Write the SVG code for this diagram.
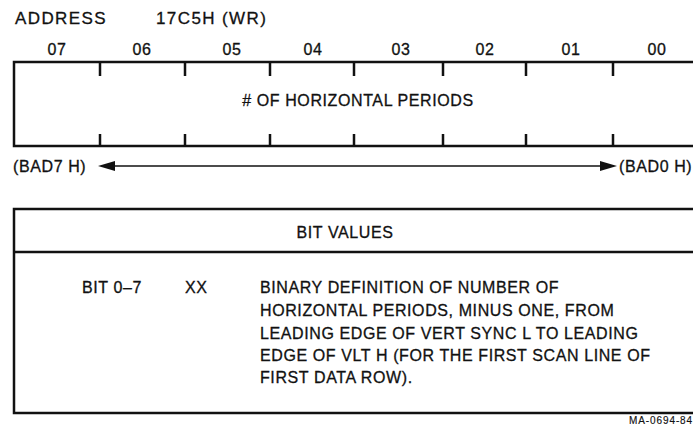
<svg xmlns="http://www.w3.org/2000/svg" width="693" height="431" viewBox="0 0 693 431">
<defs>
<style>
text{font-family:"Liberation Sans",Arial,sans-serif;fill:#111;stroke:#111;stroke-width:0.3;}
.t{font-size:16px;letter-spacing:0.6px;}
.h{font-size:17px;letter-spacing:1.4px;}
.s{font-size:10px;letter-spacing:0.9px;stroke-width:0.15;}
.box{fill:none;stroke:#111;stroke-width:2.5;}
.tick{stroke:#111;stroke-width:2.5;}
.ln{stroke:#111;stroke-width:1.3;fill:none;}
.ah{fill:#111;stroke:none;}
</style>
</defs>
<rect width="693" height="431" fill="#fff"/>
<g id="title">
<text class="h" x="15" y="24">ADDRESS</text>
<text class="h" x="156" y="24">17C5H (WR)</text>
</g>
<g id="bitlabels" class="t" text-anchor="middle">
<text x="57" y="55">07</text>
<text x="142" y="55">06</text>
<text x="232" y="55">05</text>
<text x="313" y="55">04</text>
<text x="401" y="55">03</text>
<text x="485" y="55">02</text>
<text x="571" y="55">01</text>
<text x="657" y="55">00</text>
</g>
<g id="register">
<rect class="box" x="14" y="62" width="690" height="84"/>
<path class="tick" d="M100,62V76M185,62V76M270,62V76M354,62V76M443,62V76M526,62V76M613,62V76M100,134V146M185,134V146M270,134V146M354,134V146M443,134V146M526,134V146M613,134V146"/>
<text class="t" x="358" y="106" text-anchor="middle"># OF HORIZONTAL PERIODS</text>
</g>
<g id="connectors">
<line class="ln" x1="112" y1="166" x2="602" y2="166"/>
<polygon class="ah" points="98,166 115,161 115,171"/>
<polygon class="ah" points="617,166 600,161 600,171"/>
</g>
<g id="ends" class="t">
<text x="13" y="172">(BAD7 H)</text>
<text x="619" y="172">(BAD0 H)</text>
</g>
<g id="bitvalues">
<rect class="box" x="14" y="209" width="690" height="204"/>
<line class="tick" x1="14" y1="252" x2="693" y2="252"/>
<text class="t" x="345" y="238" text-anchor="middle">BIT VALUES</text>
<text class="t" x="82" y="293">BIT 0–7</text>
<text class="t" x="185" y="293">XX</text>
<text class="t" x="260" y="293">BINARY DEFINITION OF NUMBER OF</text>
<text class="t" x="260" y="316">HORIZONTAL PERIODS, MINUS ONE, FROM</text>
<text class="t" x="260" y="339">LEADING EDGE OF VERT SYNC L TO LEADING</text>
<text class="t" x="260" y="361">EDGE OF VLT H (FOR THE FIRST SCAN LINE OF</text>
<text class="t" x="260" y="383">FIRST DATA ROW).</text>
</g>
<text class="s" x="629" y="424">MA-0694-84</text>
</svg>
